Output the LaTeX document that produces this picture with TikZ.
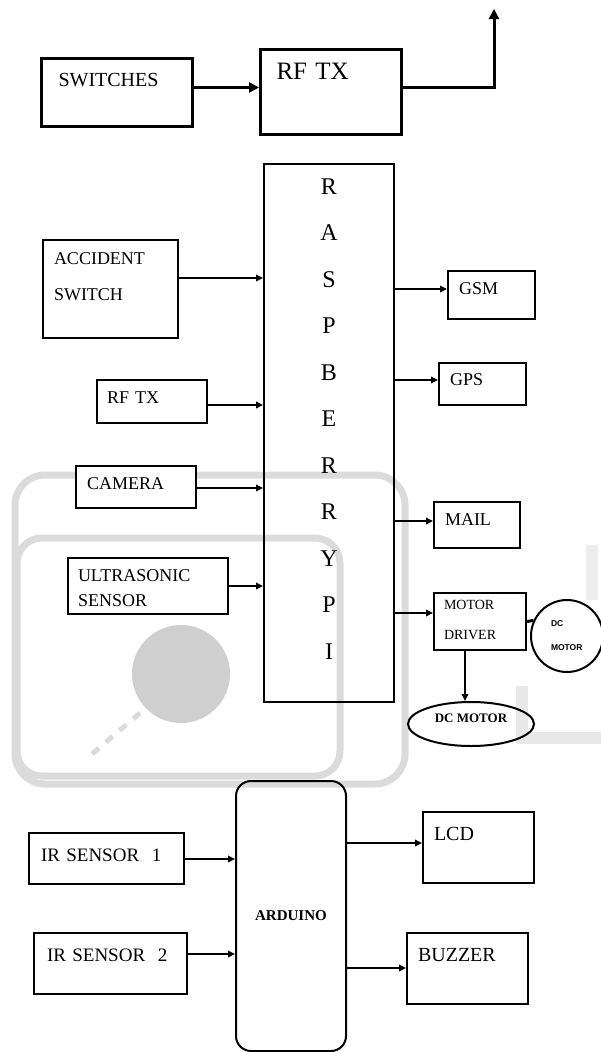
\documentclass[tikz,border=0pt]{standalone}
\usepackage{fontspec}
\setmainfont{Liberation Serif}
\newfontfamily\sansfnt{Liberation Sans}
\usetikzlibrary{positioning,arrows.meta,calc,shapes.geometric}
\newcommand{\fsz}[2]{\fontsize{#1}{#2}\selectfont}

\begin{document}
\begin{tikzpicture}[
  x=1pt, y=-1pt,
  blk/.style={draw,fill=white,line width=2pt,anchor=north west,inner ysep=0pt,align=left,font={\fsz{18}{22}}},
  thk/.style={line width=3pt},
  arr/.style={line width=2pt,-{Triangle[length=7pt,width=6.5pt]}},
  bigarr/.style={line width=3pt,-{Triangle[length=10pt,width=10pt]}},
  wm/.style={draw=black!14,line width=7pt}
]
\useasboundingbox (0,0) rectangle (601,1052);

% faint logo behind the blocks
\draw[wm,rounded corners=30] (15,475) rectangle (405,784);
\draw[wm,rounded corners=25] (17,538) rectangle (340,776);
\fill[black!19] (181,674) circle (49);
\draw[wm,line width=5pt,dash pattern=on 9pt off 9pt] (140,713) -- (92,754);
\draw[wm,draw=black!9,line width=12pt] (522,686) -- (522,738) -- (601,738);
\draw[wm,draw=black!7,line width=12pt] (592,545) -- (592,600);

% transmitter side
\node[blk,thk,font={\fsz{20}{24}},inner xsep=17pt,text width=117pt,text height=28pt,text depth=40pt] (sw) at (40,57) {SWITCHES};
\node[blk,thk,font={\fsz{25}{30}},inner xsep=16pt,text width=109pt,text height=30pt,text depth=55pt] (rftx) at (259,48) {RF TX};
\coordinate (ant) at (494,9);
\draw[bigarr] ([yshift=5pt]sw.east) -- ([yshift=5pt]sw.east -| rftx.west);
\draw[bigarr] ([yshift=5pt]rftx.east) -| (ant);

% raspberry pi
\node[draw,line width=2pt,anchor=north west,inner sep=0pt,text width=130pt,align=center,
  text height=30pt,text depth=508pt,font={\fsz{24}{46.5}}] (rpi) at (263,163)
  {R\\A\\S\\P\\B\\E\\R\\R\\Y\\P\\I};

\node[blk,font={\fsz{18}{36}},inner xsep=11pt,text width=113pt,text height=24pt,text depth=74pt] (acc) at (42,239) {ACCIDENT\\SWITCH};
\node[blk,inner xsep=10pt,text width=90pt,text height=23pt,text depth=20pt] (rfin) at (96,379) {RF TX};
\node[blk,inner xsep=11pt,text width=98pt,text height=23pt,text depth=19pt] (cam) at (75,465) {CAMERA};
\node[blk,font={\fsz{18}{25}},inner xsep=10pt,text width=140pt,text height=23pt,text depth=33pt] (ult) at (67,557) {ULTRASONIC\\SENSOR};

\node[blk,inner xsep=11pt,text width=65pt,text height=23pt,text depth=25pt] (gsm) at (447,270) {GSM};
\node[blk,inner xsep=11pt,text width=65pt,text height=22pt,text depth=20pt] (gps) at (438,362) {GPS};
\node[blk,inner xsep=11pt,text width=64pt,text height=23pt,text depth=23pt] (mail) at (433,501) {MAIL};
\node[blk,fill=none,font={\fsz{14}{30}},inner xsep=10pt,text width=72pt,text height=16pt,text depth=41pt] (drv) at (433,592) {MOTOR\\DRIVER};
\node[circle,draw,line width=2pt,minimum size=72pt,inner sep=0pt,text width=32pt,align=left,
  font={\sansfnt\bfseries\fsz{8.5}{24}}] (dcm) at (567,636) {DC\\MOTOR};
\node[ellipse,draw,line width=2pt,minimum width=126pt,minimum height=44pt,inner sep=0pt,
  text height=9pt,text depth=12pt,font={\bfseries\fsz{13}{15}}] (dcmo) at (471,724) {DC MOTOR};

\draw[arr] ([yshift=11pt]acc.east) -- ([yshift=11pt]acc.east -| rpi.west);
\draw[arr] ([yshift=-3.5pt]rfin.east) -- ([yshift=-3.5pt]rfin.east -| rpi.west);
\draw[arr] ([yshift=-1pt]cam.east) -- ([yshift=-1pt]cam.east -| rpi.west);
\draw[arr] (ult.east) -- (ult.east -| rpi.west);
\draw[arr] ([yshift=6pt]gsm.west -| rpi.east) -- ([yshift=6pt]gsm.west);
\draw[arr] ([yshift=4pt]gps.west -| rpi.east) -- ([yshift=4pt]gps.west);
\draw[arr] ([yshift=4pt]mail.west -| rpi.east) -- ([yshift=4pt]mail.west);
\draw[arr] ([yshift=8.5pt]drv.west -| rpi.east) -- ([yshift=8.5pt]drv.west);
\draw[thk] (drv.east) -- (dcm.155);
\draw[arr] ([xshift=-15pt]drv.south) -- ([xshift=-15pt]drv.south |- dcmo.north);

% arduino side
\node[draw,line width=2pt,rounded corners=15pt,anchor=north west,minimum width=110pt,minimum height=270pt,
  inner sep=0pt,font={\bfseries\fsz{15}{18}}] (ard) at (235,780) {ARDUINO};
\node[blk,font={\fsz{19}{23}},inner xsep=12pt,text width=131pt,text height=28pt,text depth=23pt] (ir1) at (28,832) {IR SENSOR\ \ 1};
\node[blk,font={\fsz{19}{23}},inner xsep=13pt,text width=127pt,text height=28pt,text depth=33pt] (ir2) at (33,932) {IR SENSOR\ \ 2};
\node[blk,font={\fsz{20}{24}},inner xsep=11pt,text width=89pt,text height=28pt,text depth=43pt] (lcd) at (422,811) {LCD};
\node[blk,font={\fsz{20}{24}},inner xsep=11pt,text width=99pt,text height=28pt,text depth=43pt] (buz) at (406,932) {BUZZER};

\draw[arr] ([yshift=-0.5pt]ir1.east) -- ([yshift=-0.5pt]ir1.east -| ard.west);
\draw[arr] ([yshift=9.5pt]ir2.east) -- ([yshift=9.5pt]ir2.east -| ard.west);
\draw[arr] ([yshift=4.5pt]lcd.west -| ard.east) -- ([yshift=4.5pt]lcd.west);
\draw[arr] ([yshift=0.5pt]buz.west -| ard.east) -- ([yshift=0.5pt]buz.west);
\end{tikzpicture}
\end{document}
